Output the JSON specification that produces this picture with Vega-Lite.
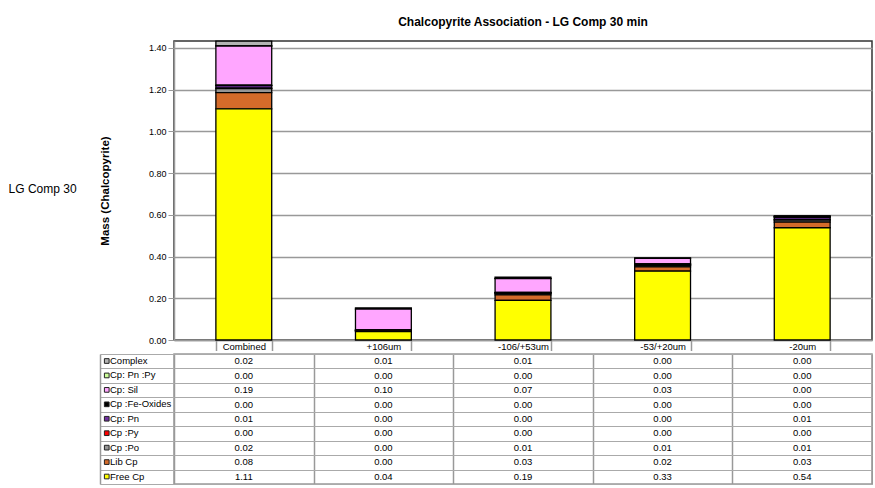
{
  "$schema": "https://vega.github.io/schema/vega-lite/v6.json",
  "padding": {"left": 8, "top": 14, "right": 0, "bottom": 0},
  "config": {
    "font": "Liberation Sans",
    "axis": {"labelFont": "Liberation Sans", "titleFont": "Liberation Sans", "labelColor": "#000", "titleColor": "#000"},
    "legend": {"labelFont": "Liberation Sans"},
    "title": {"font": "Liberation Sans", "color": "#000"}
  },
  "title": {"text": "LG Comp 30", "orient": "left", "angle": 0, "fontSize": 12, "fontWeight": "normal", "anchor": "middle", "offset": -12, "dy": -66},
  "spacing": 0,
  "datasets": {
    "mass": [
      {"size": "Combined", "series": "Complex", "value": 0.022},
      {"size": "Combined", "series": "Cp: Pn :Py", "value": 0.001},
      {"size": "Combined", "series": "Cp: Sil", "value": 0.188},
      {"size": "Combined", "series": "Cp :Fe-Oxides", "value": 0.002},
      {"size": "Combined", "series": "Cp: Pn", "value": 0.012},
      {"size": "Combined", "series": "Cp :Py", "value": 0.002},
      {"size": "Combined", "series": "Cp :Po", "value": 0.019},
      {"size": "Combined", "series": "Lib Cp", "value": 0.078},
      {"size": "Combined", "series": "Free Cp", "value": 1.108},
      {"size": "+106um", "series": "Complex", "value": 0.006},
      {"size": "+106um", "series": "Cp: Pn :Py", "value": 0.0},
      {"size": "+106um", "series": "Cp: Sil", "value": 0.1},
      {"size": "+106um", "series": "Cp :Fe-Oxides", "value": 0.001},
      {"size": "+106um", "series": "Cp: Pn", "value": 0.001},
      {"size": "+106um", "series": "Cp :Py", "value": 0.0},
      {"size": "+106um", "series": "Cp :Po", "value": 0.002},
      {"size": "+106um", "series": "Lib Cp", "value": 0.004},
      {"size": "+106um", "series": "Free Cp", "value": 0.04},
      {"size": "-106/+53um", "series": "Complex", "value": 0.006},
      {"size": "-106/+53um", "series": "Cp: Pn :Py", "value": 0.001},
      {"size": "-106/+53um", "series": "Cp: Sil", "value": 0.066},
      {"size": "-106/+53um", "series": "Cp :Fe-Oxides", "value": 0.001},
      {"size": "-106/+53um", "series": "Cp: Pn", "value": 0.002},
      {"size": "-106/+53um", "series": "Cp :Py", "value": 0.001},
      {"size": "-106/+53um", "series": "Cp :Po", "value": 0.008},
      {"size": "-106/+53um", "series": "Lib Cp", "value": 0.026},
      {"size": "-106/+53um", "series": "Free Cp", "value": 0.19},
      {"size": "-53/+20um", "series": "Complex", "value": 0.003},
      {"size": "-53/+20um", "series": "Cp: Pn :Py", "value": 0.0},
      {"size": "-53/+20um", "series": "Cp: Sil", "value": 0.026},
      {"size": "-53/+20um", "series": "Cp :Fe-Oxides", "value": 0.002},
      {"size": "-53/+20um", "series": "Cp: Pn", "value": 0.004},
      {"size": "-53/+20um", "series": "Cp :Py", "value": 0.001},
      {"size": "-53/+20um", "series": "Cp :Po", "value": 0.008},
      {"size": "-53/+20um", "series": "Lib Cp", "value": 0.02},
      {"size": "-53/+20um", "series": "Free Cp", "value": 0.33},
      {"size": "-20um", "series": "Complex", "value": 0.002},
      {"size": "-20um", "series": "Cp: Pn :Py", "value": 0.0},
      {"size": "-20um", "series": "Cp: Sil", "value": 0.002},
      {"size": "-20um", "series": "Cp :Fe-Oxides", "value": 0.004},
      {"size": "-20um", "series": "Cp: Pn", "value": 0.01},
      {"size": "-20um", "series": "Cp :Py", "value": 0.002},
      {"size": "-20um", "series": "Cp :Po", "value": 0.01},
      {"size": "-20um", "series": "Lib Cp", "value": 0.027},
      {"size": "-20um", "series": "Free Cp", "value": 0.538}
    ]
  },
  "resolve": {"scale": {"x": "independent", "y": "independent", "color": "independent"}, "legend": {"color": "independent"}},
  "vconcat": [
    {
      "width": 698,
      "height": 299,
      "data": {"name": "mass"},
      "transform": [
        {"calculate": "indexof(['Free Cp','Lib Cp','Cp :Po','Cp :Py','Cp: Pn','Cp :Fe-Oxides','Cp: Sil','Cp: Pn :Py','Complex'], datum.series)", "as": "ord"}
      ],
      "title": {"text": "Chalcopyrite Association - LG Comp 30 min", "fontSize": 12, "fontWeight": "bold", "anchor": "middle", "offset": 12},
      "view": {"stroke": "#333", "strokeWidth": 1.5},
      "mark": {"type": "bar", "stroke": "#000", "strokeWidth": 1.3},
      "encoding": {
        "x": {
          "field": "size", "type": "nominal",
          "sort": ["Combined", "+106um", "-106/+53um", "-53/+20um", "-20um"],
          "scale": {"paddingInner": 0.6, "paddingOuter": 0.3},
          "axis": {"title": null, "tickBand": "extent", "tickSize": 10.5, "tickColor": "#999", "tickWidth": 1.5, "domainColor": "#999", "domainWidth": 1.5, "labelFontSize": 9.5, "labelPadding": -9.5, "labelAngle": 0, "grid": false, "minExtent": 0}
        },
        "y": {
          "field": "value", "type": "quantitative", "stack": "zero",
          "scale": {"domain": [0, 1.433], "nice": false, "zero": true},
          "axis": {"values": [0, 0.2, 0.4, 0.6, 0.8, 1.0, 1.2, 1.4], "format": ".2f", "title": "Mass (Chalcopyrite)", "titleFontSize": 11.5, "titleFontWeight": "bold", "titlePadding": 38, "labelFontSize": 9, "labelPadding": 2, "tickSize": 6, "tickColor": "#999", "domainColor": "#999", "domainWidth": 1.5, "gridColor": "#999", "gridWidth": 1.3, "minExtent": 0}
        },
        "color": {
          "field": "series", "type": "nominal",
          "scale": {
            "domain": ["Complex", "Cp: Pn :Py", "Cp: Sil", "Cp :Fe-Oxides", "Cp: Pn", "Cp :Py", "Cp :Po", "Lib Cp", "Free Cp"],
            "range": ["#B4B4B4", "#CCFF99", "#FFA6FF", "#000000", "#7030A0", "#FF0000", "#969696", "#D46B2A", "#FFFF00"]
          },
          "legend": null
        },
        "order": {"field": "ord", "type": "quantitative", "sort": "ascending"}
      }
    },
    {
      "width": 698,
      "height": 130,
      "data": {"name": "mass"},
      "view": {"stroke": "#999", "strokeWidth": 1.5},
      "encoding": {
        "x": {
          "field": "size", "type": "nominal",
          "sort": ["Combined", "+106um", "-106/+53um", "-53/+20um", "-20um"],
          "scale": {"paddingInner": 0, "paddingOuter": 0},
          "axis": {"title": null, "orient": "top", "labels": false, "ticks": false, "domain": false, "grid": true, "tickBand": "extent", "gridColor": "#999", "gridWidth": 1.5, "minExtent": 0}
        },
        "y": {
          "field": "series", "type": "nominal",
          "sort": ["Complex", "Cp: Pn :Py", "Cp: Sil", "Cp :Fe-Oxides", "Cp: Pn", "Cp :Py", "Cp :Po", "Lib Cp", "Free Cp"],
          "scale": {"paddingInner": 0, "paddingOuter": 0},
          "axis": {"title": null, "labels": false, "offset": 74, "domain": true, "domainColor": "#999", "domainWidth": 1.5, "ticks": true, "tickSize": -74, "tickBand": "extent", "tickColor": "#aaa", "tickWidth": 1.2, "grid": true, "gridColor": "#aaa", "gridWidth": 1.2, "minExtent": 0}
        }
      },
      "layer": [
        {
          "mark": {"type": "text", "fontSize": 9.5, "color": "#000"},
          "encoding": {"text": {"field": "value", "type": "quantitative", "format": ".2f"}}
        },
        {
          "mark": {"type": "square", "opacity": 0},
          "encoding": {
            "color": {
              "field": "series", "type": "nominal",
              "scale": {
                "domain": ["Complex", "Cp: Pn :Py", "Cp: Sil", "Cp :Fe-Oxides", "Cp: Pn", "Cp :Py", "Cp :Po", "Lib Cp", "Free Cp"],
                "range": ["#B4B4B4", "#CCFF99", "#FFA6FF", "#000000", "#7030A0", "#FF0000", "#969696", "#D46B2A", "#FFFF00"]
              },
              "legend": {"orient": "none", "legendX": -72, "legendY": 0, "title": null, "symbolType": "square", "symbolSize": 22, "symbolStrokeColor": "#222", "symbolStrokeWidth": 1, "symbolOpacity": 1, "labelFontSize": 9.5, "labelOffset": -1.5, "labelColor": "#000", "clipHeight": 14, "rowPadding": 0.44, "padding": 0}
            }
          }
        }
      ]
    }
  ]
}
